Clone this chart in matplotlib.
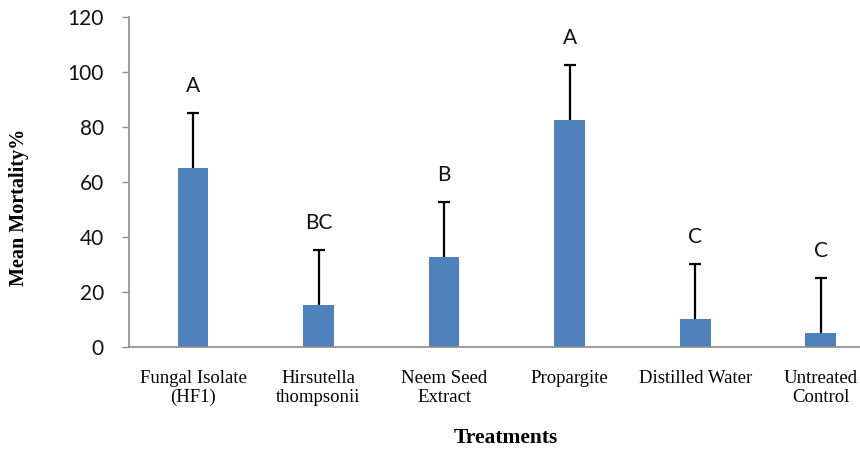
import numpy as np
import matplotlib.pyplot as plt

# Mean mortality per treatment, with upper error and significance letters
treatments = ["Fungal Isolate\n(HF1)", "Hirsutella\nthompsonii", "Neem Seed\nExtract",
              "Propargite", "Distilled Water", "Untreated\nControl"]
mortality = [65, 15, 32.5, 82.5, 10, 5]
errors = [20, 20, 20, 20, 20, 20]
letters = ["A", "BC", "B", "A", "C", "C"]

fig = plt.figure(figsize=(8.6, 4.49), dpi=100)
ax = fig.add_axes([129 / 860, 1 - 346.7 / 449, 731 / 860, 330 / 449])

x = np.arange(len(treatments))
ax.bar(x, mortality, width=0.245, color="#4F81BD", zorder=2)
_, caps, _ = ax.errorbar(x, mortality, yerr=[np.zeros(len(errors)), errors], fmt="none",
                         ecolor="black", elinewidth=1.6, capsize=4.5, capthick=1.6, zorder=3)
caps[0].set_visible(False)  # upper whisker only

for xi, m, e, lab in zip(x, mortality, errors, letters):
    ax.annotate(lab, (xi, m + e), xytext=(0, 19.5), textcoords="offset points",
                ha="center", va="center", fontsize=15, family="Lato", color="#111111")

ax.set_xlim(-0.51, 5.313)
ax.set_ylim(0, 120)
ax.set_yticks(range(0, 121, 20))
ax.set_xticks(x)
ax.set_xticklabels(treatments, family="Liberation Serif", fontsize=13.5, linespacing=1.1)
ax.tick_params(axis="x", length=0, pad=17)
ax.tick_params(axis="y", length=5, width=1, color="#8c8c8c", pad=13, labelsize=15)
for t in ax.get_yticklabels():
    t.set_family("Lato")
    t.set_color("#111111")

for side in ["top", "right"]:
    ax.spines[side].set_visible(False)
for side in ["left", "bottom"]:
    ax.spines[side].set_color("#8c8c8c")
    ax.spines[side].set_linewidth(1.2)

fig.text(19 / 860, 1 - 207 / 449, "Mean Mortality%", rotation=90, ha="center", va="center",
         family="Liberation Serif", fontweight="bold", fontsize=14.5)
fig.text(506 / 860, 1 - 443 / 449, "Treatments", ha="center", va="baseline",
         family="Liberation Serif", fontweight="bold", fontsize=15.5)

fig.savefig("out.png", dpi=100)
